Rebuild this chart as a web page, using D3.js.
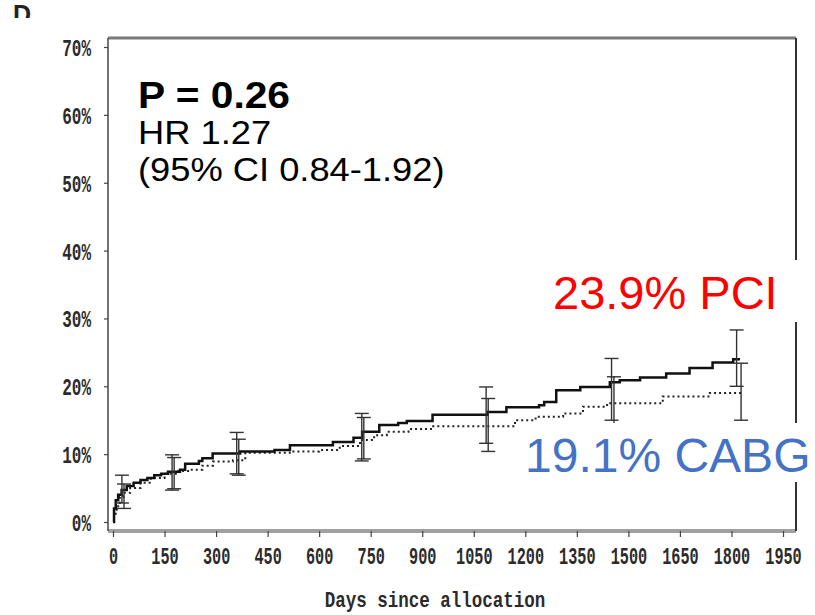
<!DOCTYPE html>
<html>
<head>
<meta charset="utf-8">
<script src="https://cdnjs.cloudflare.com/ajax/libs/d3/7.8.5/d3.min.js"></script>
<style>
body { margin: 0; background: #fff; }
svg { display: block; }
.tick text { font-family: "Liberation Mono", monospace; font-size: 16px; fill: #2b2b2b; font-weight: bold; }
.tick line { stroke: #444; stroke-width: 1.2; }
</style>
</head>
<body>
<div id="chart"></div>
<script>
var xTicks = [0, 150, 300, 450, 600, 750, 900, 1050, 1200, 1350, 1500, 1650, 1800, 1950];
var yTicks = [0, 10, 20, 30, 40, 50, 60, 70];

// cumulative event rate (%), step curves
var pciDays = [0, 3, 8, 15, 25, 40, 60, 80, 100, 120, 140, 160, 195, 210, 250, 260, 290, 370, 470, 515, 640, 700, 725, 775, 830, 855, 930, 1090, 1145, 1240, 1255, 1290, 1360, 1446, 1475, 1534, 1610, 1678, 1745, 1805, 1825];
var pciPct  = [0, 2.0, 3.2, 4.0, 4.7, 5.3, 5.8, 6.2, 6.5, 6.9, 7.1, 7.4, 7.7, 8.6, 9.0, 9.4, 10.1, 10.4, 10.6, 11.3, 11.8, 12.4, 13.3, 14.3, 14.6, 14.9, 15.8, 16.2, 16.9, 17.2, 17.7, 19.4, 19.9, 20.6, 20.9, 21.3, 21.9, 22.7, 23.5, 24.0, 24.0];

var cabgDays = [0, 3, 8, 15, 20, 30, 50, 80, 110, 150, 190, 224, 260, 291, 349, 385, 520, 600, 660, 719, 760, 797, 860, 932, 1170, 1230, 1310, 1368, 1438, 1600, 1737, 1830];
var cabgPct  = [0, 1.0, 1.8, 2.8, 3.7, 4.3, 5.0, 5.8, 6.5, 7.1, 7.5, 7.7, 8.3, 8.9, 9.1, 10.2, 10.4, 10.6, 11.2, 12.1, 12.8, 13.3, 13.7, 14.1, 15.0, 15.5, 16.0, 17.0, 17.5, 18.5, 19.0, 19.1];

// 95% confidence bars
var pciCiDays = [26, 172, 360, 724, 1086, 1451, 1815];
var pciCiLow  = [2.8, 4.7, 7.1, 9.0, 11.6, 15.0, 20.0];
var pciCiHigh = [6.9, 9.9, 13.2, 16.0, 19.9, 24.1, 28.3];

var cabgCiDays = [32, 178, 366, 730, 1092, 1458, 1828];
var cabgCiLow  = [2.0, 4.9, 6.9, 9.3, 10.4, 13.2, 15.0];
var cabgCiHigh = [5.6, 9.5, 12.2, 15.4, 18.2, 21.4, 23.4];

var statLines = ["P = 0.26", "HR 1.27", "(95% CI 0.84-1.92)"];
var pciLabel = "23.9% PCI";
var cabgLabel = "19.1% CABG";
var xTitle = "Days since allocation";

var w = 815, h = 615;

var svg = d3.select("#chart").append("svg")
    .attr("width", w).attr("height", h);

var x = d3.scaleLinear().domain([0, 1950]).range([113, 783]);
var y = d3.scaleLinear().domain([0, 70]).range([522, 47]);

// frame
var frame = {left: 108, right: 796, top: 38, bottom: 531};
svg.append("line").attr("x1", frame.left).attr("x2", frame.right)
    .attr("y1", frame.top).attr("y2", frame.top)
    .attr("stroke", "#7a7a7a").attr("stroke-width", 3);
svg.append("line").attr("x1", frame.left).attr("x2", frame.right)
    .attr("y1", frame.bottom).attr("y2", frame.bottom)
    .attr("stroke", "#a0a0a0").attr("stroke-width", 4);
svg.append("line").attr("x1", frame.left).attr("x2", frame.left)
    .attr("y1", frame.top).attr("y2", frame.bottom)
    .attr("stroke", "#444").attr("stroke-width", 1.5);
svg.append("line").attr("x1", frame.right).attr("x2", frame.right)
    .attr("y1", frame.top).attr("y2", frame.bottom)
    .attr("stroke", "#333").attr("stroke-width", 2);

// axes
var yAxis = d3.axisLeft(y).tickValues(yTicks).tickSize(4)
    .tickFormat(function(d){ return d + "%"; });
svg.append("g")
    .attr("transform", "translate(" + frame.left + ",0)")
    .call(yAxis)
    .call(function(g){ g.select(".domain").remove(); })
    .selectAll("text")
    .attr("x", 0).attr("dy", null)
    .attr("transform", "translate(-17,8.5) scale(1.0,1.45)");

var xAxis = d3.axisBottom(x).tickValues(xTicks).tickSize(6)
    .tickFormat(d3.format("d"));
svg.append("g")
    .attr("transform", "translate(0," + frame.bottom + ")")
    .call(xAxis)
    .call(function(g){ g.select(".domain").remove(); })
    .selectAll("text")
    .attr("y", 0).attr("dy", null)
    .attr("transform", "translate(0,33) scale(0.95,1.45)");

svg.append("text")
    .attr("transform", "translate(435,607) scale(1.03,1.25)")
    .attr("text-anchor", "middle")
    .attr("font-family", "Liberation Mono, monospace")
    .attr("font-size", 17)
    .attr("font-weight", "bold")
    .attr("fill", "#2b2b2b")
    .text(xTitle);

// curves
var line = d3.line()
    .x(function(d){ return x(d[0]); })
    .y(function(d){ return y(d[1]); })
    .curve(d3.curveStepAfter);

var pciData = pciDays.map(function(d, i){ return [d, pciPct[i]]; });
var cabgData = cabgDays.map(function(d, i){ return [d, cabgPct[i]]; });

svg.append("path").datum(cabgData)
    .attr("d", line)
    .attr("fill", "none")
    .attr("stroke", "#222")
    .attr("stroke-width", 2)
    .attr("stroke-dasharray", "2,3");

svg.append("path").datum(pciData)
    .attr("d", line)
    .attr("fill", "none")
    .attr("stroke", "#111")
    .attr("stroke-width", 2.5);

// error bars
function errorBars(days, low, high){
    var data = days.map(function(d, i){ return {day: d, lo: low[i], hi: high[i]}; });
    var g = svg.append("g").attr("stroke", "#333").attr("stroke-width", 1.4);
    g.selectAll(".bar").data(data).enter().append("line")
        .attr("x1", function(d){ return x(d.day); })
        .attr("x2", function(d){ return x(d.day); })
        .attr("y1", function(d){ return y(d.lo); })
        .attr("y2", function(d){ return y(d.hi); });
    g.selectAll(".capHi").data(data).enter().append("line")
        .attr("x1", function(d){ return x(d.day) - 7; })
        .attr("x2", function(d){ return x(d.day) + 7; })
        .attr("y1", function(d){ return y(d.hi); })
        .attr("y2", function(d){ return y(d.hi); });
    g.selectAll(".capLo").data(data).enter().append("line")
        .attr("x1", function(d){ return x(d.day) - 7; })
        .attr("x2", function(d){ return x(d.day) + 7; })
        .attr("y1", function(d){ return y(d.lo); })
        .attr("y2", function(d){ return y(d.lo); });
}
errorBars(pciCiDays, pciCiLow, pciCiHigh);
errorBars(cabgCiDays, cabgCiLow, cabgCiHigh);

// white label boxes
svg.append("rect").attr("x", 545).attr("y", 260).attr("width", 256).attr("height", 62).attr("fill", "#fff");
svg.append("rect").attr("x", 524).attr("y", 423).attr("width", 291).attr("height", 59).attr("fill", "#fff");

svg.append("text")
    .attr("x", 553).attr("y", 309)
    .attr("font-family", "Liberation Sans, Arial, sans-serif")
    .attr("font-size", 47)
    .attr("fill", "#ff0000")
    .text(pciLabel);

svg.append("text")
    .attr("x", 525).attr("y", 472)
    .attr("font-family", "Liberation Sans, Arial, sans-serif")
    .attr("font-size", 48)
    .attr("fill", "#4472c4")
    .text(cabgLabel);

// statistics
var stats = svg.append("g")
    .attr("font-family", "Liberation Sans, Arial, sans-serif")
    .attr("fill", "#000");
stats.append("text")
    .attr("transform", "translate(138,108) scale(1.1,1)")
    .attr("font-size", 37).attr("font-weight", "bold")
    .text(statLines[0]);
stats.append("text")
    .attr("transform", "translate(138,144) scale(1.1,1)")
    .attr("font-size", 33)
    .text(statLines[1]);
stats.append("text")
    .attr("transform", "translate(138,181) scale(1.1,1)")
    .attr("font-size", 33)
    .text(statLines[2]);

// clipped panel letter in the corner
svg.append("clipPath").attr("id", "corner")
    .append("rect").attr("x", 0).attr("y", 4).attr("width", 60).attr("height", 14);
svg.append("text")
    .attr("clip-path", "url(#corner)")
    .attr("x", 13).attr("y", 23)
    .attr("font-family", "Liberation Sans, Arial, sans-serif")
    .attr("font-size", 25).attr("font-weight", "bold")
    .attr("fill", "#222")
    .text("D");
</script>
</body>
</html>
